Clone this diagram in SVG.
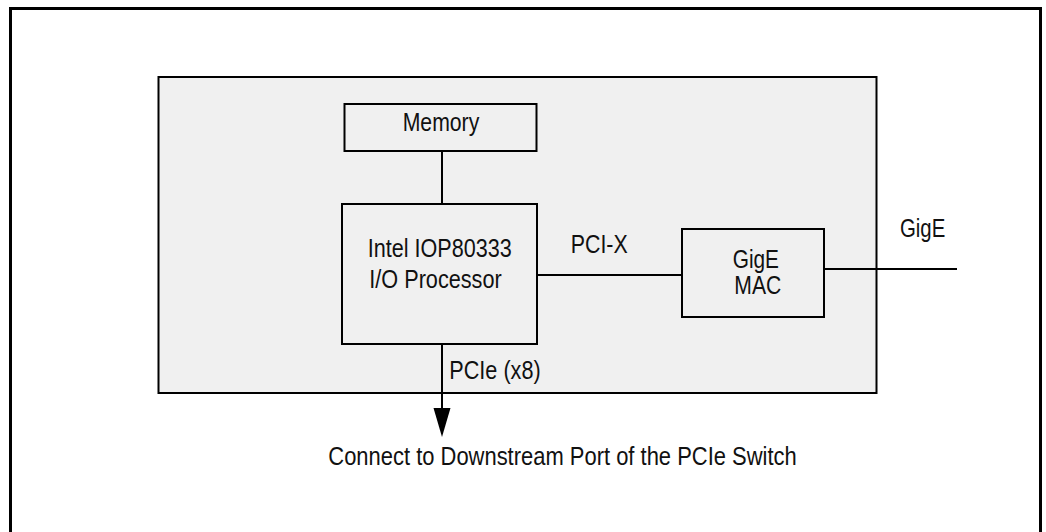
<svg xmlns="http://www.w3.org/2000/svg" width="1046" height="532" viewBox="0 0 1046 532">
<style>
.box{fill:#f0f0f0;stroke:#000;stroke-width:2}
.wire{stroke:#000;stroke-width:2;fill:none}
.t{font-family:"Liberation Sans",Arial,sans-serif;font-size:25.5px;fill:#111}
</style>
<rect width="1046" height="532" fill="#fff"/>
<rect id="frame" x="10.5" y="8.5" width="1030" height="540" fill="none" stroke="#000" stroke-width="3"/>
<g id="board"><rect x="158.5" y="77" width="718" height="316" fill="#f0f0f0" stroke="#000" stroke-width="2"/></g>
<g id="connectors">
<line class="wire" x1="442" y1="151" x2="442" y2="204"/>
<line class="wire" x1="537" y1="275" x2="682" y2="275"/>
<line class="wire" x1="824" y1="269" x2="957" y2="269"/>
<line class="wire" x1="442" y1="344" x2="442" y2="408"/>
<path d="M433.5,408 L450.5,408 L442,437 Z" fill="#000"/>
</g>
<g id="memory"><rect class="box" x="344.5" y="104" width="192" height="47"/>
<text class="t" x="402.7" y="131" textLength="76.6" lengthAdjust="spacingAndGlyphs">Memory</text></g>
<g id="iop"><rect class="box" x="342" y="204" width="195" height="140"/>
<text class="t" x="367.7" y="256.7" textLength="144" lengthAdjust="spacingAndGlyphs">Intel IOP80333</text>
<text class="t" x="369.3" y="287.7" textLength="132.4" lengthAdjust="spacingAndGlyphs">I/O Processor</text></g>
<g id="mac"><rect class="box" x="682" y="229" width="142" height="88"/>
<text class="t" x="732.7" y="268.3" textLength="46.3" lengthAdjust="spacingAndGlyphs">GigE</text>
<text class="t" x="734.3" y="294.3" textLength="47" lengthAdjust="spacingAndGlyphs">MAC</text></g>
<g id="labels">
<text class="t" x="570.7" y="253.3" textLength="57" lengthAdjust="spacingAndGlyphs">PCI-X</text>
<text class="t" x="449.3" y="378.5" textLength="91.4" lengthAdjust="spacingAndGlyphs">PCIe (x8)</text>
<text class="t" x="900" y="237.3" textLength="45.3" lengthAdjust="spacingAndGlyphs">GigE</text>
<text class="t" x="328.3" y="465" textLength="468.4" lengthAdjust="spacingAndGlyphs">Connect to Downstream Port of the PCIe Switch</text>
</g>
</svg>
